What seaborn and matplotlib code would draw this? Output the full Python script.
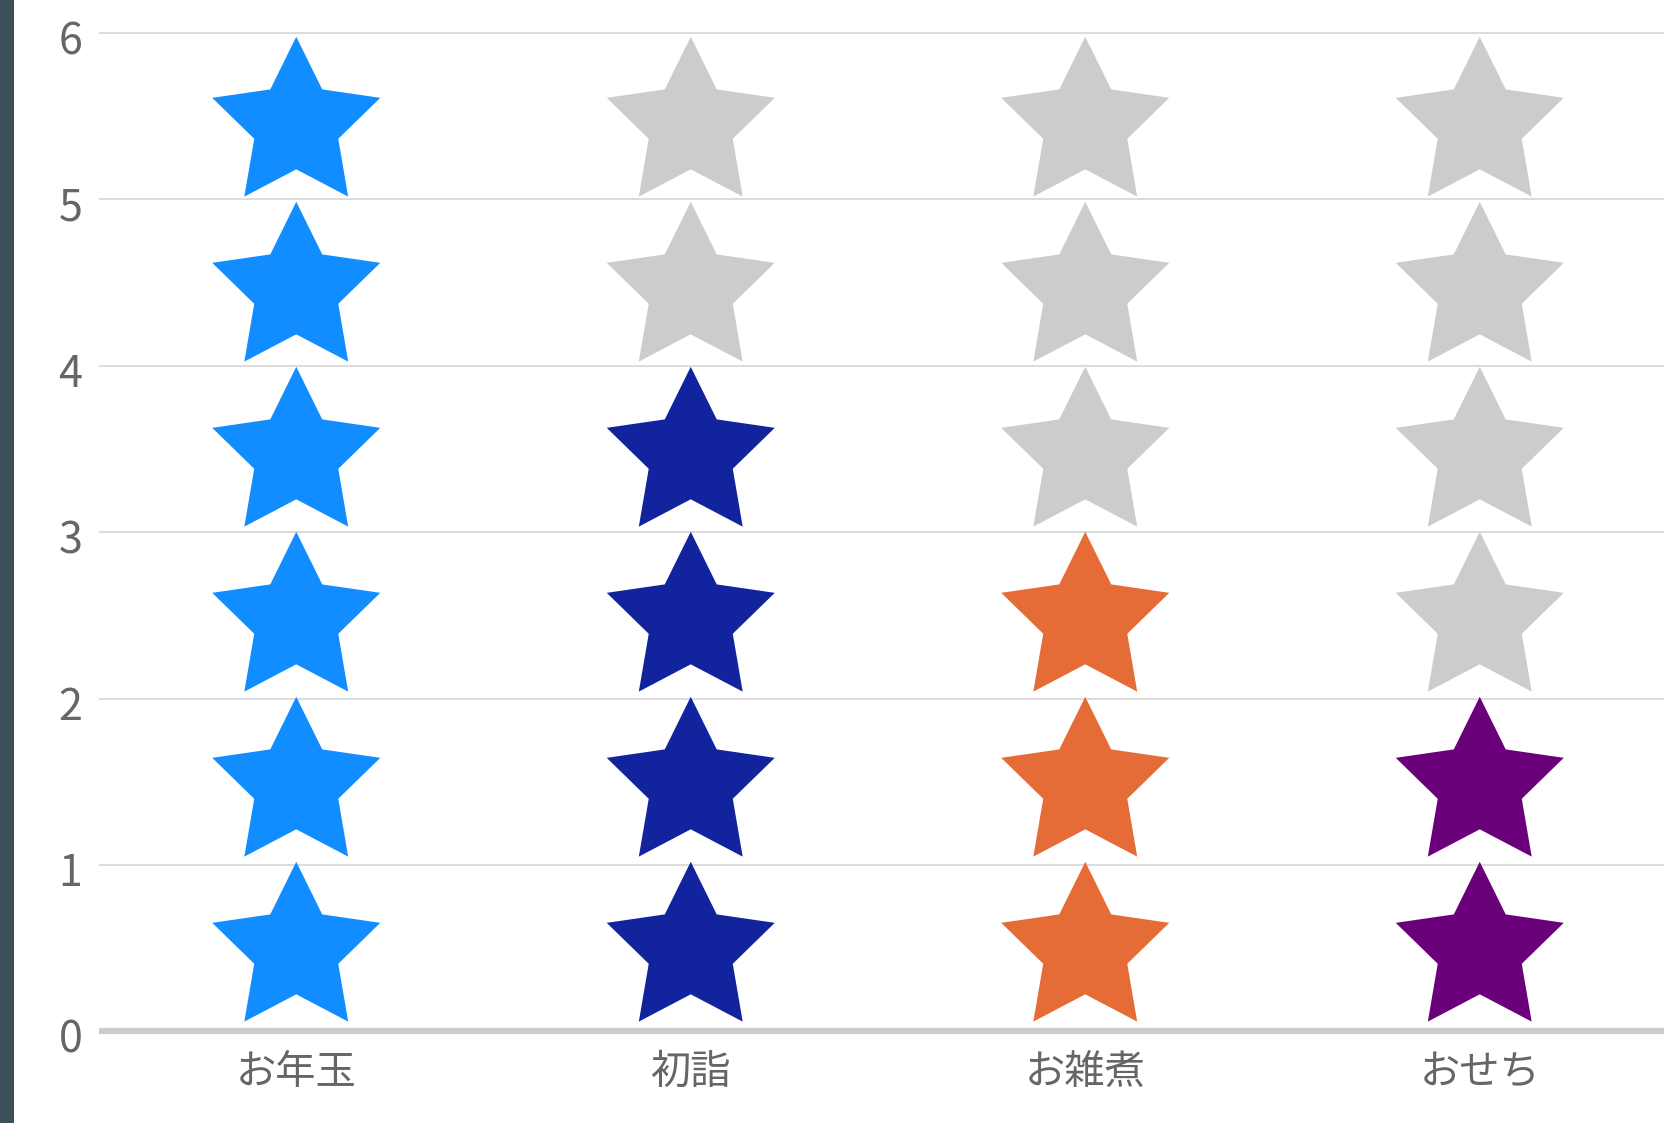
import numpy as np
import pandas as pd
import matplotlib
matplotlib.use("Agg")
import matplotlib.pyplot as plt
from matplotlib.path import Path
from matplotlib.patches import Rectangle
from matplotlib.transforms import ScaledTranslation
import seaborn as sns

# Ratings per item, shown as stacked stars out of a maximum of six
categories = ["お年玉", "初詣", "お雑煮", "おせち"]
scores = [6, 4, 3, 2]
max_score = 6
colors = ["#118DFF", "#12239E", "#E66C37", "#6B007B"]
empty_color = "#CCCCCC"
y_ticks = [0, 1, 2, 3, 4, 5, 6]

sns.set_theme(style="white")
plt.rcParams["font.family"] = ["Noto Sans CJK JP", "DejaVu Sans"]

# One row per star slot: filled up to the score, grey above it
rows = []
for cat, score in zip(categories, scores):
    for k in range(max_score):
        rows.append({"category": cat, "slot": k + 0.5,
                     "fill": cat if k < score else "empty"})
df = pd.DataFrame(rows)
palette = dict(zip(categories, colors))
palette["empty"] = empty_color

# Five-pointed star marker (inner radius = half the outer), centred on its bounding box
angles = np.pi / 2 + np.arange(10) * np.pi / 5
radii = np.where(np.arange(10) % 2 == 0, 1.0, 0.5)
yshift = -(1 - np.cos(np.pi / 5)) / 2
verts = np.column_stack([radii * np.cos(angles), radii * np.sin(angles) + yshift])
verts = np.vstack([verts, verts[:1]])
codes = [Path.MOVETO] + [Path.LINETO] * 9 + [Path.CLOSEPOLY]
star = Path(verts, codes)

W, H, DPI = 1664, 1123, 100
fig = plt.figure(figsize=(W / DPI, H / DPI), dpi=DPI)
fig.patch.set_facecolor("white")

# Axes placed in pixel terms; the right edge runs slightly past the canvas
left_px, right_px = 99, 1677
top_px, bottom_px = 8, 1039.8
ax = fig.add_axes([left_px / W, (H - bottom_px) / H,
                   (right_px - left_px) / W, (bottom_px - top_px) / H])
ax.set_facecolor("white")

ax.set_xlim(-0.5, len(categories) - 0.5)
ax.set_ylim(-0.05, 6.15)
ax.set_yticks(y_ticks)
ax.set_yticklabels([str(t) for t in y_ticks])
ax.yaxis.grid(True, color="#D2D2D2", linewidth=1.1)
ax.xaxis.grid(False)
ax.set_axisbelow(True)
ax.axhline(0, color="#CCCCCC", linewidth=4.5, zorder=2)

# Star slots are stacked a touch tighter than the value grid
sx = ax.twinx()
sns.scatterplot(data=df, x="category", y="slot", hue="fill", palette=palette,
                marker=star, s=14645, linewidth=0, edgecolor="none",
                legend=False, ax=sx, zorder=3)
sx.set_ylim(-0.0945, 6.1588)
sx.set_yticks([])
sx.set_ylabel("")
sx.set_xlim(-0.5, len(categories) - 0.5)

ax.set_xticks(range(len(categories)))
ax.set_xticklabels(categories)

for a in (ax, sx):
    for s in a.spines.values():
        s.set_visible(False)
ax.tick_params(axis="y", length=0, pad=12, labelsize=31, labelcolor="#666666")
ax.tick_params(axis="x", length=0, pad=9, labelsize=29, labelcolor="#666666")
sx.tick_params(axis="x", length=0, labelbottom=False)
ax.set_xlabel("")
ax.set_ylabel("")
sx.set_xlabel("")

# Nudge value labels slightly below their grid lines
for lab in ax.get_yticklabels():
    lab.set_transform(lab.get_transform() + ScaledTranslation(0, -3 / 72, fig.dpi_scale_trans))

# Dark strip along the left edge
fig.add_artist(Rectangle((0, 0), 14 / W, 1, transform=fig.transFigure,
                         facecolor="#3D5057", edgecolor="none"))

fig.savefig("out.png", dpi=DPI)
